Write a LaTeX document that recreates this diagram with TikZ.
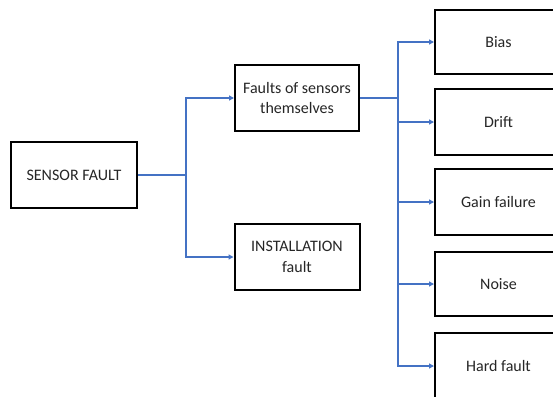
\documentclass[tikz,border=0pt]{standalone}
\usepackage{fontspec}
\setmainfont{Carlito}
\usetikzlibrary{arrows.meta}
\definecolor{lineblue}{HTML}{4472C4}
\begin{document}
\begin{tikzpicture}[x=1pt,y=-1pt,
  box/.style={draw=black,line width=2pt,fill=white,align=center,inner sep=0pt,
    font=\fontsize{16}{20.5}\selectfont,text=black!85},
  conn/.style={draw=lineblue,line width=2pt},
  arr/.style={conn,-{Triangle[length=5pt,width=5pt]}}]
\useasboundingbox (0,0) rectangle (553,396);
\clip (0,0) rectangle (553,396);
\node[box,minimum width=126pt,minimum height=66pt] (sensor) at (74,175) {SENSOR FAULT};
\node[box,minimum width=124pt,minimum height=66pt] (faults) at (297,98) {Faults of sensors\\themselves};
\node[box,minimum width=125pt,minimum height=66pt] (install) at (297,257) {INSTALLATION\\fault};
\node[box,minimum width=127pt,minimum height=64pt] (bias) at (498.5,42) {Bias};
\node[box,minimum width=127pt,minimum height=66pt] (drift) at (498.5,122) {Drift};
\node[box,minimum width=127pt,minimum height=66pt] (gain) at (498.5,202) {Gain failure};
\node[box,minimum width=127pt,minimum height=64pt] (noise) at (498.5,284) {Noise};
\node[box,minimum width=127pt,minimum height=66pt] (hard) at (498.5,366) {Hard fault};
\coordinate (j1) at (186,175);
\coordinate (j2) at (398,98);
\draw[conn] (sensor.east) -- (j1);
\draw[arr] (j1) |- (faults.west);
\draw[arr] (j1) |- (install.west);
\draw[conn] (faults.east) -- (j2);
\draw[arr] (j2) |- (bias.west);
\draw[arr] (j2) |- (drift.west);
\draw[arr] (j2) |- (gain.west);
\draw[arr] (j2) |- (noise.west);
\draw[arr] (j2) |- (hard.west);
\end{tikzpicture}
\end{document}
